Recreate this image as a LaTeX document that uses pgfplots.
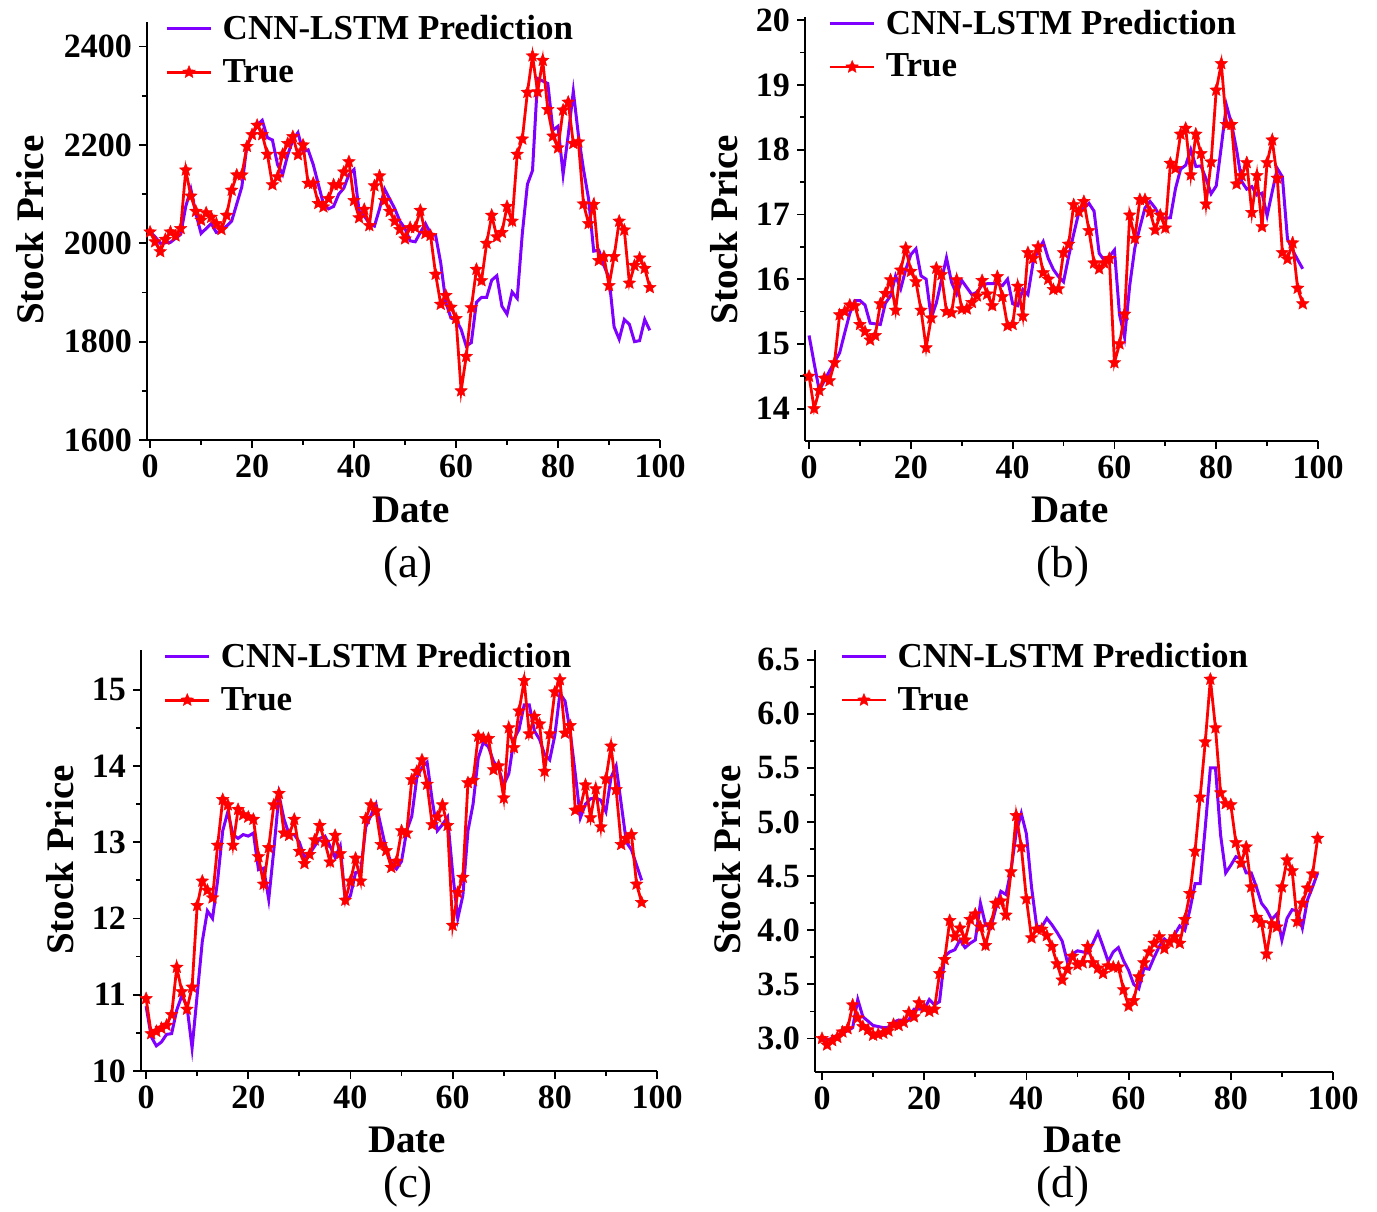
\documentclass[border=0pt]{standalone}
\usepackage{fontspec}
\setmainfont{Liberation Serif}
\usepackage{pgfplots}
\usepackage{pgfplotstable}
\pgfplotsset{compat=1.18}
\definecolor{pcol}{RGB}{127,0,255}
\definecolor{tcol}{RGB}{255,0,0}

\pgfdeclareplotmark{fstar}{%
  \pgfpathmoveto{\pgfqpointpolar{90}{\pgfplotmarksize}}%
  \pgfpathlineto{\pgfqpointpolar{126}{0.45\pgfplotmarksize}}%
  \pgfpathlineto{\pgfqpointpolar{162}{\pgfplotmarksize}}%
  \pgfpathlineto{\pgfqpointpolar{198}{0.45\pgfplotmarksize}}%
  \pgfpathlineto{\pgfqpointpolar{234}{\pgfplotmarksize}}%
  \pgfpathlineto{\pgfqpointpolar{270}{0.45\pgfplotmarksize}}%
  \pgfpathlineto{\pgfqpointpolar{306}{\pgfplotmarksize}}%
  \pgfpathlineto{\pgfqpointpolar{342}{0.45\pgfplotmarksize}}%
  \pgfpathlineto{\pgfqpointpolar{18}{\pgfplotmarksize}}%
  \pgfpathlineto{\pgfqpointpolar{54}{0.45\pgfplotmarksize}}%
  \pgfpathclose
  \pgfusepathqfillstroke
}

% ---------- data ----------
\pgfplotstableread{
x pred true
0 2023 2023
1 2013 2003
2 2000 1983
3 2001 2008
4 2002 2023
5 2010 2015
6 2018 2030
7 2075 2149
8 2110 2096
9 2060 2065
10 2020 2047
11 2030 2062
12 2040 2053
13 2022 2040
14 2025 2028
15 2035 2057
16 2045 2108
17 2080 2139
18 2115 2139
19 2200 2197
20 2220 2221
21 2240 2240
22 2250 2221
23 2215 2181
24 2210 2119
25 2160 2135
26 2140 2181
27 2180 2203
28 2210 2217
29 2225 2180
30 2186 2200
31 2190 2122
32 2160 2122
33 2120 2081
34 2080 2074
35 2070 2091
36 2075 2119
37 2100 2119
38 2112 2145
39 2140 2166
40 2150 2087
41 2065 2052
42 2056 2069
43 2040 2036
44 2035 2117
45 2070 2137
46 2110 2087
47 2090 2065
48 2070 2045
49 2045 2028
50 2030 2009
51 2005 2032
52 2003 2032
53 2022 2067
54 2040 2020
55 2020 2016
56 2016 1937
57 1960 1876
58 1880 1894
59 1848 1870
60 1844 1847
61 1825 1700
62 1791 1770
63 1798 1869
64 1880 1947
65 1890 1924
66 1890 2000
67 1925 2057
68 1934 2013
69 1872 2022
70 1856 2075
71 1901 2045
72 1888 2181
73 2020 2212
74 2120 2307
75 2148 2381
76 2335 2308
77 2330 2372
78 2325 2272
79 2230 2218
80 2238 2194
81 2140 2271
82 2220 2287
83 2309 2203
84 2220 2206
85 2150 2080
86 2090 2040
87 1984 2079
88 1986 1965
89 1955 1973
90 1930 1914
91 1830 1973
92 1805 2045
93 1845 2027
94 1835 1919
95 1800 1955
96 1802 1970
97 1845 1949
98 1823 1910
}\tableA

\pgfplotstableread{
x pred true
0 15.13 14.50
1 14.70 14.00
2 14.28 14.28
3 14.43 14.47
4 14.58 14.43
5 14.72 14.71
6 14.86 15.45
7 15.17 15.50
8 15.47 15.60
9 15.67 15.59
10 15.67 15.30
11 15.60 15.19
12 15.32 15.06
13 15.31 15.13
14 15.30 15.62
15 15.63 15.78
16 15.74 15.99
17 16.05 15.52
18 15.85 16.14
19 16.15 16.48
20 16.38 16.12
21 16.47 15.96
22 16.05 15.52
23 16.00 14.94
24 15.40 15.40
25 15.63 16.17
26 15.98 16.07
27 16.33 15.50
28 15.95 15.48
29 15.77 15.99
30 15.98 15.54
31 15.87 15.54
32 15.76 15.64
33 15.80 15.74
34 15.91 15.98
35 15.93 15.77
36 15.93 15.59
37 15.93 16.04
38 15.90 15.73
39 16.00 15.28
40 15.62 15.30
41 15.59 15.89
42 15.84 15.43
43 15.76 16.41
44 16.25 16.32
45 16.45 16.50
46 16.58 16.10
47 16.32 16.00
48 16.15 15.84
49 16.04 15.85
50 15.96 16.41
51 16.35 16.54
52 16.70 17.15
53 17.03 17.04
54 17.10 17.20
55 17.17 16.75
56 17.05 16.25
57 16.40 16.16
58 16.29 16.25
59 16.35 16.32
60 16.45 14.71
61 15.45 15.00
62 15.10 15.46
63 15.90 16.99
64 16.48 16.63
65 16.80 17.23
66 17.10 17.23
67 17.20 17.04
68 17.10 16.76
69 16.96 16.99
70 16.94 16.79
71 16.95 17.79
72 17.40 17.71
73 17.70 18.24
74 17.76 18.33
75 18.00 17.61
76 17.74 18.24
77 17.75 17.94
78 17.55 17.16
79 17.32 17.81
80 17.44 18.92
81 18.05 19.33
82 18.69 18.39
83 18.40 18.39
84 18.00 17.47
85 17.51 17.60
86 17.39 17.80
87 17.43 17.03
88 17.30 17.60
89 17.33 16.81
90 16.98 17.80
91 17.35 18.15
92 17.71 17.56
93 17.58 16.41
94 16.62 16.31
95 16.45 16.56
96 16.30 15.86
97 16.16 15.62
}\tableB

\pgfplotstableread{
x pred true
0 10.85 10.95
1 10.45 10.49
2 10.33 10.52
3 10.38 10.56
4 10.48 10.60
5 10.49 10.74
6 10.80 11.36
7 10.99 11.04
8 10.85 10.81
9 10.30 11.10
10 11.00 12.17
11 11.70 12.49
12 12.10 12.37
13 12.00 12.27
14 12.50 12.96
15 13.15 13.56
16 13.40 13.49
17 13.10 12.96
18 13.05 13.43
19 13.10 13.36
20 13.08 13.33
21 13.12 13.30
22 12.64 12.81
23 12.66 12.45
24 12.25 12.93
25 12.90 13.49
26 13.62 13.64
27 13.30 13.12
28 13.10 13.09
29 13.10 13.30
30 13.00 12.88
31 12.80 12.72
32 12.85 12.84
33 12.95 13.03
34 13.05 13.22
35 13.08 13.00
36 12.95 12.74
37 12.80 13.09
38 12.95 12.85
39 12.22 12.24
40 12.30 12.49
41 12.60 12.79
42 12.62 12.49
43 13.20 13.31
44 13.35 13.49
45 13.50 13.41
46 13.20 12.97
47 12.90 12.89
48 12.73 12.67
49 12.65 12.75
50 12.75 13.15
51 13.15 13.12
52 13.34 13.82
53 13.85 13.93
54 13.98 14.08
55 14.05 13.76
56 13.55 13.23
57 13.15 13.33
58 13.23 13.49
59 13.33 13.22
60 12.60 11.91
61 12.00 12.34
62 12.30 12.54
63 13.15 13.78
64 13.50 13.81
65 14.10 14.39
66 14.31 14.36
67 14.25 14.36
68 14.06 13.95
69 13.97 14.00
70 13.75 13.58
71 13.90 14.50
72 14.35 14.24
73 14.48 14.72
74 14.80 15.12
75 14.80 14.42
76 14.46 14.65
77 14.35 14.55
78 14.15 13.93
79 14.08 14.42
80 14.40 14.97
81 14.95 15.13
82 14.85 14.43
83 14.45 14.53
84 13.90 13.42
85 13.32 13.45
86 13.50 13.75
87 13.57 13.32
88 13.58 13.70
89 13.55 13.20
90 13.40 13.83
91 13.85 14.26
92 14.00 13.69
93 13.50 12.97
94 13.00 13.05
95 12.90 13.10
96 12.70 12.45
97 12.50 12.21
}\tableC

\pgfplotstableread{
x pred true
0 3.00 3.00
1 2.99 2.94
2 3.00 2.98
3 3.03 3.01
4 3.05 3.06
5 3.07 3.09
6 3.10 3.31
7 3.36 3.19
8 3.20 3.11
9 3.16 3.08
10 3.12 3.03
11 3.11 3.04
12 3.10 3.05
13 3.10 3.07
14 3.15 3.13
15 3.17 3.12
16 3.17 3.15
17 3.17 3.24
18 3.27 3.20
19 3.27 3.33
20 3.27 3.28
21 3.36 3.25
22 3.31 3.27
23 3.34 3.60
24 3.76 3.73
25 3.80 4.09
26 3.82 3.94
27 3.91 4.02
28 3.84 3.91
29 3.88 4.10
30 3.91 4.15
31 4.25 4.03
32 4.05 3.86
33 4.02 4.05
34 4.20 4.25
35 4.36 4.27
36 4.33 4.14
37 4.56 4.54
38 4.90 5.06
39 5.08 4.77
40 4.89 4.29
41 4.40 3.93
42 4.04 4.01
43 4.03 4.01
44 4.11 3.95
45 4.05 3.85
46 3.98 3.69
47 3.90 3.54
48 3.71 3.64
49 3.78 3.76
50 3.81 3.68
51 3.80 3.70
52 3.79 3.85
53 3.88 3.70
54 3.98 3.65
55 3.85 3.60
56 3.71 3.67
57 3.80 3.66
58 3.84 3.66
59 3.72 3.45
60 3.63 3.30
61 3.50 3.35
62 3.46 3.57
63 3.65 3.70
64 3.64 3.80
65 3.75 3.88
66 3.85 3.94
67 3.92 3.83
68 3.88 3.89
69 3.96 3.94
70 4.04 3.88
71 4.00 4.10
72 4.19 4.34
73 4.43 4.73
74 4.43 5.23
75 4.95 5.74
76 5.50 6.32
77 5.50 5.87
78 4.88 5.27
79 4.53 5.17
80 4.60 5.16
81 4.68 4.81
82 4.66 4.62
83 4.53 4.77
84 4.53 4.40
85 4.40 4.12
86 4.25 4.07
87 4.19 3.78
88 4.10 4.06
89 4.15 4.03
90 3.91 4.40
91 4.11 4.65
92 4.19 4.55
93 4.18 4.08
94 4.02 4.25
95 4.28 4.39
96 4.40 4.52
97 4.53 4.85
}\tableD

\pgfplotsset{
  panel/.style={
    scale only axis,
    anchor=south west,
    axis x line*=bottom, axis y line*=left,
    axis line style={line width=1pt, -},
    tick align=outside,
    major tick length=4pt, minor tick length=2.5pt,
    every tick/.style={black, line width=0.9pt},
    minor x tick num=1, minor y tick num=1,
    xtick={0,20,...,100},
    xmax=100,
    tick label style={font=\fontsize{17}{17}\selectfont\bfseries},
    /pgf/number format/assume math mode=true,
    /pgf/number format/1000 sep={},
    label style={font=\fontsize{19.5}{19.5}\selectfont\bfseries},
    xlabel={Date}, ylabel={Stock Price},
    legend style={draw=none, fill=none, font=\fontsize{17.5}{17.5}\selectfont\bfseries,
      anchor=north west, inner sep=0pt, row sep=5.5pt,
      nodes={inner sep=1.5pt},
      /tikz/every odd column/.append style={column sep=3.5pt}},
    legend cell align=left,
    legend image code/.code={\draw[mark repeat=2,mark phase=2,##1] plot coordinates {(0cm,0cm) (0.39cm,0cm) (0.78cm,0cm)};},
  },
  predstyle/.style={color=pcol, line width=1.5pt, no markers},
  truestyle/.style={color=tcol, line width=1.4pt, mark=fstar, mark size=3.3pt,
     mark options={solid, fill=tcol, draw=tcol, line width=0.2pt}},
}

\begin{document}
\begin{tikzpicture}
\useasboundingbox (0,0) rectangle (688.5pt,605.5pt);

% (a)
\begin{axis}[panel, at={(73.5pt,385.5pt)}, width=256.5pt, height=209pt,
  xmin=-0.6, ymin=1600, ymax=2450, ytick={1600,1800,...,2400},
  legend style={at={(0.035,1.025)}},
  xlabel style={at={(axis description cs:0.515,-0.136)}, anchor=north, inner sep=0pt},
  ylabel style={at={(axis description cs:-0.228,0.502)}, anchor=center, inner sep=0pt}]
\addplot[predstyle] table[x=x,y=pred] {\tableA};
\addlegendentry{CNN-LSTM Prediction}
\addplot[truestyle] table[x=x,y=true] {\tableA};
\addlegendentry{True}
\end{axis}

% (b)
\begin{axis}[panel, at={(402.5pt,385pt)}, width=256.5pt, height=212pt,
  xmin=-0.8, ymin=13.5, ymax=20.05, ytick={14,15,...,20},
  legend style={at={(0.045,1.025)}},
  xlabel style={at={(axis description cs:0.517,-0.132)}, anchor=north, inner sep=0pt},
  ylabel style={at={(axis description cs:-0.158,0.498)}, anchor=center, inner sep=0pt}]
\addplot[predstyle] table[x=x,y=pred] {\tableB};
\addlegendentry{CNN-LSTM Prediction}
\addplot[truestyle] table[x=x,y=true] {\tableB};
\addlegendentry{True}
\end{axis}

% (c)
\begin{axis}[panel, at={(70.5pt,70pt)}, width=258pt, height=210.5pt,
  xmin=-1, ymin=10, ymax=15.52, ytick={10,11,...,15},
  legend style={at={(0.043,1.025)}},
  xlabel style={at={(axis description cs:0.516,-0.131)}, anchor=north, inner sep=0pt},
  ylabel style={at={(axis description cs:-0.157,0.501)}, anchor=center, inner sep=0pt}]
\addplot[predstyle] table[x=x,y=pred] {\tableC};
\addlegendentry{CNN-LSTM Prediction}
\addplot[truestyle] table[x=x,y=true] {\tableC};
\addlegendentry{True}
\end{axis}

% (d)
\begin{axis}[panel, at={(407.5pt,69.5pt)}, width=259pt, height=211pt,
  xmin=-1.37, ymin=2.69, ymax=6.59, ytick={3,3.5,...,6.5},
  yticklabel style={/pgf/number format/.cd, fixed, fixed zerofill, precision=1},
  legend style={at={(0.048,1.025)}},
  xlabel style={at={(axis description cs:0.517,-0.130)}, anchor=north, inner sep=0pt},
  ylabel style={at={(axis description cs:-0.170,0.502)}, anchor=center, inner sep=0pt}]
\addplot[predstyle] table[x=x,y=pred] {\tableD};
\addlegendentry{CNN-LSTM Prediction}
\addplot[truestyle] table[x=x,y=true] {\tableD};
\addlegendentry{True}
\end{axis}

\node[font=\fontsize{22.5}{22.5}\selectfont] at (204pt,322pt) {(a)};
\node[font=\fontsize{22.5}{22.5}\selectfont] at (531.5pt,322pt) {(b)};
\node[font=\fontsize{22.5}{22.5}\selectfont] at (204pt,12pt) {(c)};
\node[font=\fontsize{22.5}{22.5}\selectfont] at (531.5pt,12pt) {(d)};
\end{tikzpicture}
\end{document}
